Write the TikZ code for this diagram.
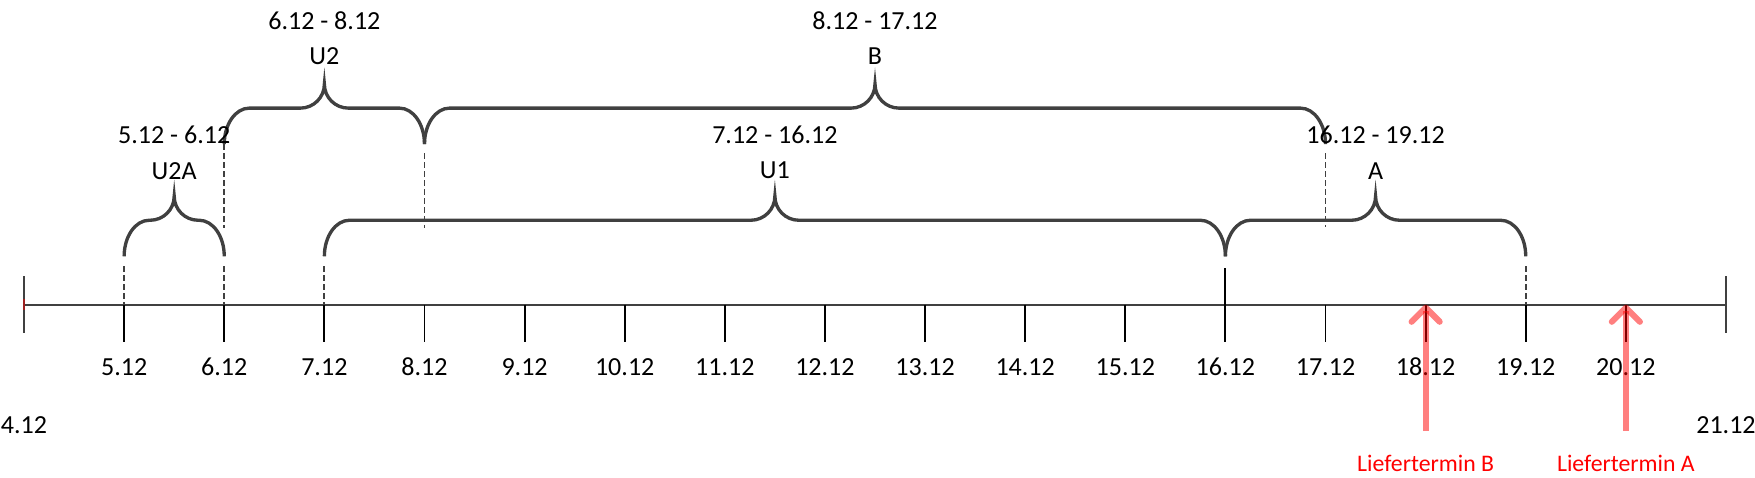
\documentclass[tikz,border=0pt]{standalone}
\usepackage{fontspec}
\setmainfont{Carlito}
\usetikzlibrary{arrows.meta}
\definecolor{klammergrau}{HTML}{404040}

\begin{document}
\begin{tikzpicture}[x=2cm,y=2cm,
  achse/.style={klammergrau, line width=1.1pt},
  marke/.style={black, line width=1.1pt},
  endmarke/.style={klammergrau, line width=1.3pt},
  klammer/.style={klammergrau, line width=1.9pt},
  ecke/.style={x radius=0.25, y radius=0.36},
  spitze/.style={x radius=0.24, y radius=0.24},
  strich/.style={klammergrau, line width=1.1pt, dash pattern=on 3.4pt off 1.7pt},
  lbl/.style={inner sep=0pt, font=\fontsize{14.8pt}{16pt}\selectfont},
  lief/.style={red, opacity=0.5, line width=3.5pt, -{Straight Barb[length=0.28cm, width=0.56cm, round]}},
  lieflbl/.style={inner sep=0pt, text=red, font=\fontsize{13.5pt}{15pt}\selectfont}]
\useasboundingbox (3.76,0) rectangle (21.29,4.77);

% Zeitachse
\draw[achse] (4,1.727) -- (21,1.727);
\draw[endmarke] (4,2.01) -- (4,1.443);
\draw[endmarke] (21,2.01) -- (21,1.443);
\draw[red, opacity=0.5, line width=1.6pt] (4,1.78) -- (4,1.67);
\foreach \d in {5,...,20}{
  \draw[marke] (\d,1.727) -- (\d,1.35);
  \node[lbl] (d\d) at (\d,1.103) {\d.12};
}
\node[lbl] (d4) at (4,0.52) {4.12};
\node[lbl] (d21) at (21,0.52) {21.12};

% untere Klammern
\draw[klammer] (5,2.21) arc[ecke,start angle=180,end angle=90] -- (5.26,2.57) arc[spitze,start angle=270,end angle=360] arc[spitze,start angle=180,end angle=270] -- (5.75,2.57) arc[ecke,start angle=90,end angle=0];
\draw[klammer] (7,2.21) arc[ecke,start angle=180,end angle=90] -- (11.26,2.57) arc[spitze,start angle=270,end angle=360] arc[spitze,start angle=180,end angle=270] -- (15.75,2.57) arc[ecke,start angle=90,end angle=0];
\draw[klammer] (16,2.21) arc[ecke,start angle=180,end angle=90] -- (17.26,2.57) arc[spitze,start angle=270,end angle=360] arc[spitze,start angle=180,end angle=270] -- (18.75,2.57) arc[ecke,start angle=90,end angle=0];
% obere Klammern
\draw[klammer] (6,3.33) arc[ecke,start angle=180,end angle=90] -- (6.76,3.69) arc[spitze,start angle=270,end angle=360] arc[spitze,start angle=180,end angle=270] -- (7.75,3.69) arc[ecke,start angle=90,end angle=0];
\draw[klammer] (8,3.33) arc[ecke,start angle=180,end angle=90] -- (12.26,3.69) arc[spitze,start angle=270,end angle=360] arc[spitze,start angle=180,end angle=270] -- (16.75,3.69) arc[ecke,start angle=90,end angle=0];

% Hilfslinien
\draw[strich] (5,2.11) -- (5,1.727);
\draw[strich] (6,2.11) -- (6,1.727);
\draw[strich] (7,2.11) -- (7,1.727);
\draw[strich] (19,2.11) -- (19,1.727);
\draw[strich] (6,3.33) -- (6,2.49);
\draw[strich] (8,3.24) -- (8,2.49);
\draw[strich] (17,3.24) -- (17,2.50);
\draw[marke] (16,2.09) -- (16,1.727);

% Beschriftungen
\node[lbl] (rU2A) at (5.5,3.42) {5.12 - 6.12};
\node[lbl] (nU2A) at (5.5,3.065) {U2A};
\node[lbl] (rU1) at (11.5,3.42) {7.12 - 16.12};
\node[lbl] (nU1) at (11.5,3.065) {U1};
\node[lbl] (rA) at (17.5,3.42) {16.12 - 19.12};
\node[lbl] (nA) at (17.5,3.065) {A};
\node[lbl] (rU2) at (7,4.56) {6.12 - 8.12};
\node[lbl] (nU2) at (7,4.205) {U2};
\node[lbl] (rB) at (12.5,4.56) {8.12 - 17.12};
\node[lbl] (nB) at (12.5,4.205) {B};

% Liefertermine
\coordinate (fB) at (18,0.463);
\coordinate (aB) at (18,1.727);
\coordinate (fA) at (20,0.463);
\coordinate (aA) at (20,1.727);
\draw[lief] (fB) -- (aB);
\draw[lief] (fA) -- (aA);
\node[lieflbl] (lB) at (18,0.143) {Liefertermin B};
\node[lieflbl] (lA) at (20,0.143) {Liefertermin A};
\end{tikzpicture}
\end{document}
